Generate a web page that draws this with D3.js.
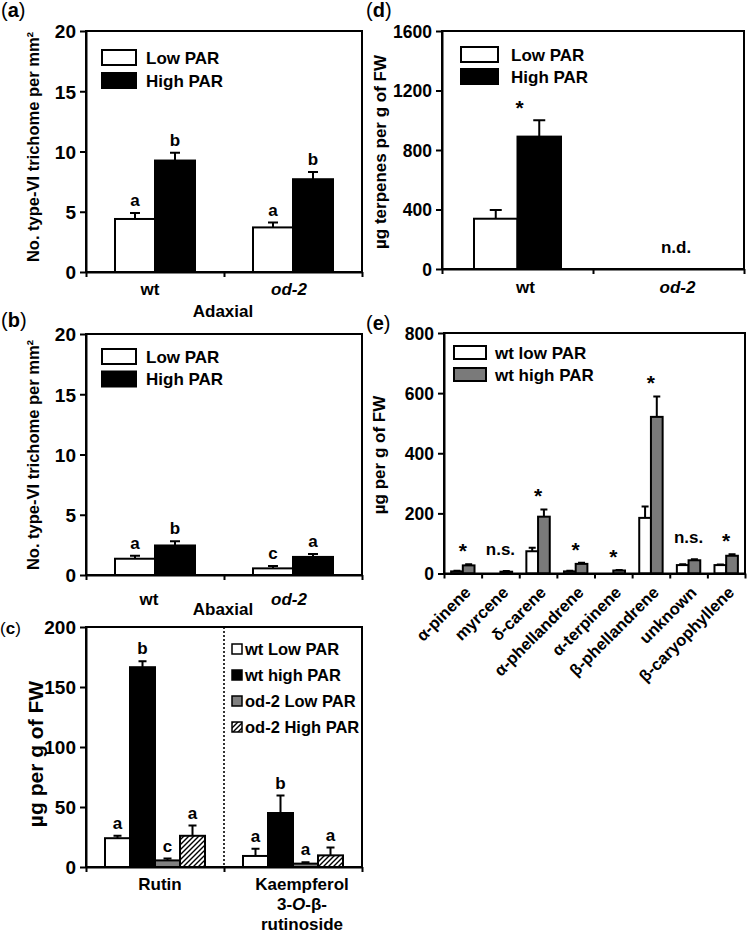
<!DOCTYPE html>
<html><head><meta charset="utf-8">
<script src="https://cdn.jsdelivr.net/npm/d3@7"></script>
<style>
body{margin:0;background:#fff}
svg text{font-family:"Liberation Sans",Arial,Helvetica,sans-serif;font-weight:bold;fill:#000}
</style>
</head><body>
<svg id="chart" width="750" height="933"></svg>
<script>
// ---------------- DATA ----------------
const genotypes = ["wt", "od-2"];
const trichomeTicks = [0, 5, 10, 15, 20];

// (a) Adaxial
const adaxLow = [4.4, 3.7];
const adaxLowErr = [0.5, 0.4];
const adaxHigh = [9.25, 7.7];
const adaxHighErr = [0.65, 0.6];
const adaxLowSig = ["a", "a"];
const adaxHighSig = ["b", "b"];

// (b) Abaxial
const abaxLow = [1.35, 0.55];
const abaxLowErr = [0.25, 0.2];
const abaxHigh = [2.45, 1.5];
const abaxHighErr = [0.35, 0.25];
const abaxLowSig = ["a", "c"];
const abaxHighSig = ["b", "a"];

// (c) flavonoids
const flavonoids = ["Rutin", "Kaempferol|3-O-β-|rutinoside"];
const flavTicks = [0, 50, 100, 150, 200];
const flavWtLow = [24, 9.2];
const flavWtLowErr = [2, 6];
const flavWtHigh = [166.5, 45];
const flavWtHighErr = [5, 14.5];
const flavOdLow = [5.5, 2.8];
const flavOdLowErr = [1.5, 1.1];
const flavOdHigh = [26, 9.7];
const flavOdHighErr = [8.5, 6.5];
const flavWtLowSig = ["a", "a"];
const flavWtHighSig = ["b", "b"];
const flavOdLowSig = ["c", "a"];
const flavOdHighSig = ["a", "a"];
const flavLegend = ["wt Low PAR", "wt high PAR", "od-2 Low PAR", "od-2 High PAR"];

// (d) total terpenes
const terpTotalTicks = [0, 400, 800, 1200, 1600];
const terpTotalLow = [338, null];
const terpTotalLowErr = [58, null];
const terpTotalHigh = [890, null];
const terpTotalHighErr = [110, null];
const terpTotalSig = ["*", "n.d."];

// (e) individual terpenes
const terpenes = ["α-pinene", "myrcene", "δ-carene", "α-phellandrene", "α-terpinene", "β-phellandrene", "unknown", "β-caryophyllene"];
const terpTicks = [0, 200, 400, 600, 800];
const terpLow = [7, 0, 74, 7, 0, 185, 28, 28];
const terpLowErr = [2, 0, 12, 2, 0, 38, 3, 2];
const terpHigh = [27, 6, 189, 32, 10, 521, 44, 59];
const terpHighErr = [4, 2, 24, 4, 2, 68, 3, 5];
const terpSig = ["*", "n.s.", "*", "*", "*", "*", "n.s.", "*"];

const lowHighLegend = ["Low PAR", "High PAR"];
const wtLegend = ["wt low PAR", "wt high PAR"];

// ---------------- DRAWING ----------------
const svg = d3.select("#chart");
const defs = svg.append("defs");
const pat = defs.append("pattern").attr("id", "hatch").attr("patternUnits", "userSpaceOnUse")
  .attr("width", 5).attr("height", 5);
pat.append("rect").attr("width", 5).attr("height", 5).attr("fill", "#fff");
pat.append("path").attr("d", "M-1,1 l2,-2 M0,5 l5,-5 M4,6 l2,-2")
  .attr("stroke", "#000").attr("stroke-width", 1.4);

const GRAY = "#7a7a7a";

function richText(sel, str) {
  const parts = str.split(/(od-2|(?<=3-)O(?=-))/).filter(s => s !== undefined && s !== "");
  parts.forEach(p => {
    sel.append("tspan").text(p).style("font-style", (p === "od-2" || p === "O") ? "italic" : "normal");
  });
}

function drawPanel(o) {
  const n = o.categories.length;
  const xb = d3.scaleBand().domain(d3.range(n)).range([o.left, o.right]);
  const xt = d3.scaleLinear().domain([0, n]).range([o.left, o.right]);
  const y = d3.scaleLinear().domain([0, o.max]).range([o.bottom, o.top]);
  const k = o.series.length;
  const inner = d3.scaleBand().domain(d3.range(k)).range([0, o.barW * k]);
  const g = svg.append("g");
  const cx = i => xb(i) + xb.bandwidth() / 2;

  o.series.forEach((s, si) => {
    const data = s.values.map((v, i) => ({v, e: s.errs[i], i, sig: s.sig ? s.sig[i] : null}))
      .filter(d => d.v != null);
    const bx = d => cx(d.i) - o.barW * k / 2 + inner(si);
    const eg = g.append("g").attr("stroke", "#000").attr("stroke-width", o.errW || 2);
    eg.selectAll(null).data(data.filter(d => d.e > 0)).join("path")
      .attr("fill", "none")
      .attr("d", d => {
        const xm = bx(d) + inner.bandwidth() / 2;
        const yt = y(d.v + d.e);
        return `M${xm},${y(d.v)}V${yt}M${xm - o.cap / 2},${yt}H${xm + o.cap / 2}`;
      });
    g.selectAll(null).data(data).join("rect")
      .attr("x", bx).attr("y", d => y(d.v))
      .attr("width", inner.bandwidth()).attr("height", d => y(0) - y(d.v))
      .attr("fill", s.fill).attr("stroke", "#000").attr("stroke-width", o.barStroke || 2);
    if (s.sig) {
      g.selectAll(null).data(data).join("text")
        .attr("x", d => bx(d) + inner.bandwidth() / 2)
        .attr("y", d => y(d.v + d.e) - 7)
        .attr("text-anchor", "middle").style("font-size", "17px")
        .text(d => d.sig);
    }
  });

  if (o.groupSig) {
    o.groupSig.forEach((t, i) => {
      if (!t) return;
      let top = 0;
      o.series.forEach(s => { if (s.values[i] != null) top = Math.max(top, s.values[i] + (s.errs[i] || 0)); });
      const isStar = t === "*";
      const yy = y(top) - (isStar ? o.starGap : o.nsGap);
      g.append("text").attr("x", cx(i) + (o.sigDx || 0)).attr("y", yy)
        .attr("text-anchor", "middle").style("font-size", isStar ? "21px" : "17px").text(t);
    });
  }

  g.append("rect").attr("x", o.left).attr("y", o.top)
    .attr("width", o.right - o.left).attr("height", o.bottom - o.top)
    .attr("fill", "none").attr("stroke", "#000").attr("stroke-width", 2);

  const ya = g.append("g").attr("transform", `translate(${o.left},0)`)
    .call(d3.axisLeft(y).tickValues(o.ticks).tickSize(6).tickSizeOuter(0).tickPadding(4).tickFormat(d3.format("d")));
  ya.selectAll("line,path").attr("stroke", "#000").attr("stroke-width", 2);
  ya.selectAll("text").attr("font-family", null).attr("font-size", null)
    .style("font-size", o.tickFont + "px").attr("dy", "0.36em");

  const xa = g.append("g").attr("transform", `translate(0,${o.bottom})`)
    .call(d3.axisBottom(xt).tickValues(d3.range(n + 1)).tickSize(5).tickSizeOuter(0).tickFormat(""));
  xa.selectAll("line,path").attr("stroke", "#000").attr("stroke-width", 2);

  if (o.rotateLabels) {
    o.categories.forEach((c, i) => {
      g.append("text")
        .attr("transform", `translate(${cx(i) + 9},${o.bottom + 20}) rotate(-45)`)
        .attr("text-anchor", "end").style("font-size", "16.5px").text(c);
    });
  } else {
    o.categories.forEach((c, i) => {
      const lines = c.split("|");
      lines.forEach((ln, li) => {
        const t = g.append("text").attr("x", cx(i) + o.catDx[i]).attr("y", o.bottom + o.catDy + li * 20)
          .attr("text-anchor", "middle").style("font-size", "17px");
        richText(t, ln);
      });
    });
  }

  g.append("text").attr("transform", `translate(${o.titleX},${o.titleY}) rotate(-90)`)
    .attr("text-anchor", "middle").attr("dy", "0.36em").style("font-size", o.titleFont + "px")
    .text(o.title);
  return {g, xb, y};
}

function panelLabel(x, yy, letter, size) {
  const t = svg.append("text").attr("x", x).attr("y", yy).style("font-size", size + "px");
  t.append("tspan").text("(").style("font-weight", "normal");
  t.append("tspan").text(letter);
  t.append("tspan").text(")").style("font-weight", "normal");
}

function boxLegend(x, y0, w, h, step, labels, fills, tx, font) {
  labels.forEach((l, i) => {
    svg.append("rect").attr("x", x).attr("y", y0 + i * step).attr("width", w).attr("height", h)
      .attr("fill", fills[i]).attr("stroke", "#000").attr("stroke-width", 2);
    svg.append("text").attr("x", tx).attr("y", y0 + i * step + h / 2).attr("dy", "0.36em")
      .style("font-size", font + "px").text(l);
  });
}

// (a)
drawPanel({
  left: 86, right: 362, top: 31, bottom: 272, max: 20, ticks: trichomeTicks, tickFont: 19,
  categories: genotypes, barW: 40, cap: 10,
  series: [
    {values: adaxLow, errs: adaxLowErr, fill: "#fff", sig: adaxLowSig},
    {values: adaxHigh, errs: adaxHighErr, fill: "#000", sig: adaxHighSig}
  ],
  catDx: [-5, -4], catDy: 23,
  title: "No. type-VI trichome per mm²", titleX: 33, titleY: 147, titleFont: 16.5
});
svg.append("text").attr("x", 223).attr("y", 317).attr("text-anchor", "middle").style("font-size", "17px").text("Adaxial");
boxLegend(102, 50, 34, 15, 23, lowHighLegend, ["#fff", "#000"], 146, 17);
panelLabel(1, 17, "a", 20);

// (b)
drawPanel({
  left: 86, right: 362, top: 334, bottom: 575, max: 20, ticks: trichomeTicks, tickFont: 19,
  categories: genotypes, barW: 40, cap: 10,
  series: [
    {values: abaxLow, errs: abaxLowErr, fill: "#fff", sig: abaxLowSig},
    {values: abaxHigh, errs: abaxHighErr, fill: "#000", sig: abaxHighSig}
  ],
  catDx: [-6, -4], catDy: 30,
  title: "No. type-VI trichome per mm²", titleX: 33, titleY: 455, titleFont: 16.5
});
svg.append("text").attr("x", 223).attr("y", 615).attr("text-anchor", "middle").style("font-size", "17px").text("Abaxial");
boxLegend(102, 349, 34, 15, 22.5, lowHighLegend, ["#fff", "#000"], 146, 17);
panelLabel(1, 327, "b", 20);

// (c)
const pc = drawPanel({
  left: 86, right: 362, top: 627, bottom: 867, max: 200, ticks: flavTicks, tickFont: 19,
  categories: flavonoids, barW: 25, cap: 8,
  series: [
    {values: flavWtLow, errs: flavWtLowErr, fill: "#fff", sig: flavWtLowSig},
    {values: flavWtHigh, errs: flavWtHighErr, fill: "#000", sig: flavWtHighSig},
    {values: flavOdLow, errs: flavOdLowErr, fill: "#808080", sig: flavOdLowSig},
    {values: flavOdHigh, errs: flavOdHighErr, fill: "url(#hatch)", sig: flavOdHighSig}
  ],
  catDx: [5, 9], catDy: 23,
  title: "µg per g of FW", titleX: 35, titleY: 754, titleFont: 21
});
pc.g.append("line").attr("x1", 224).attr("x2", 224).attr("y1", 627).attr("y2", 867)
  .attr("stroke", "#000").attr("stroke-width", 1.6).attr("stroke-dasharray", "2,2");
flavLegend.forEach((l, i) => {
  const yc = 649 + i * 26;
  svg.append("rect").attr("x", 232).attr("y", yc - 5).attr("width", 10).attr("height", 10)
    .attr("fill", ["#fff", "#000", "#808080", "url(#hatch)"][i]).attr("stroke", "#000").attr("stroke-width", 1.5);
  svg.append("text").attr("x", 245).attr("y", yc).attr("dy", "0.36em").style("font-size", "16.5px").text(l);
});
panelLabel(0, 634, "c", 17);

// (d)
drawPanel({
  left: 442, right: 744, top: 31, bottom: 269, max: 1600, ticks: terpTotalTicks, tickFont: 17.5,
  categories: genotypes, barW: 43.5, cap: 12,
  series: [
    {values: terpTotalLow, errs: terpTotalLowErr, fill: "#fff"},
    {values: terpTotalHigh, errs: terpTotalHighErr, fill: "#000"}
  ],
  groupSig: [terpTotalSig[0], null], starGap: 5, nsGap: 16, sigDx: 2,
  catDx: [8, 9], catDy: 24,
  title: "µg terpenes per g of FW", titleX: 380, titleY: 152, titleFont: 17
});
svg.append("text").attr("x", 676).attr("y", 253).attr("text-anchor", "middle").style("font-size", "17px").text(terpTotalSig[1]);
boxLegend(461, 47, 37, 15, 22, lowHighLegend, ["#fff", "#000"], 511, 17);
panelLabel(366, 17, "d", 20);

// (e)
drawPanel({
  left: 444, right: 745, top: 333, bottom: 573.5, max: 800, ticks: terpTicks, tickFont: 17.5,
  categories: terpenes, barW: 11.7, cap: 7, rotateLabels: true,
  series: [
    {values: terpLow, errs: terpLowErr, fill: "#fff"},
    {values: terpHigh, errs: terpHighErr, fill: GRAY}
  ],
  groupSig: terpSig, starGap: 6, nsGap: 16,
  title: "µg per g of FW", titleX: 379, titleY: 455, titleFont: 17
});
boxLegend(454, 346, 32, 13, 22, wtLegend, ["#fff", GRAY], 495, 17);
panelLabel(366, 330, "e", 20);
</script>
</body></html>
